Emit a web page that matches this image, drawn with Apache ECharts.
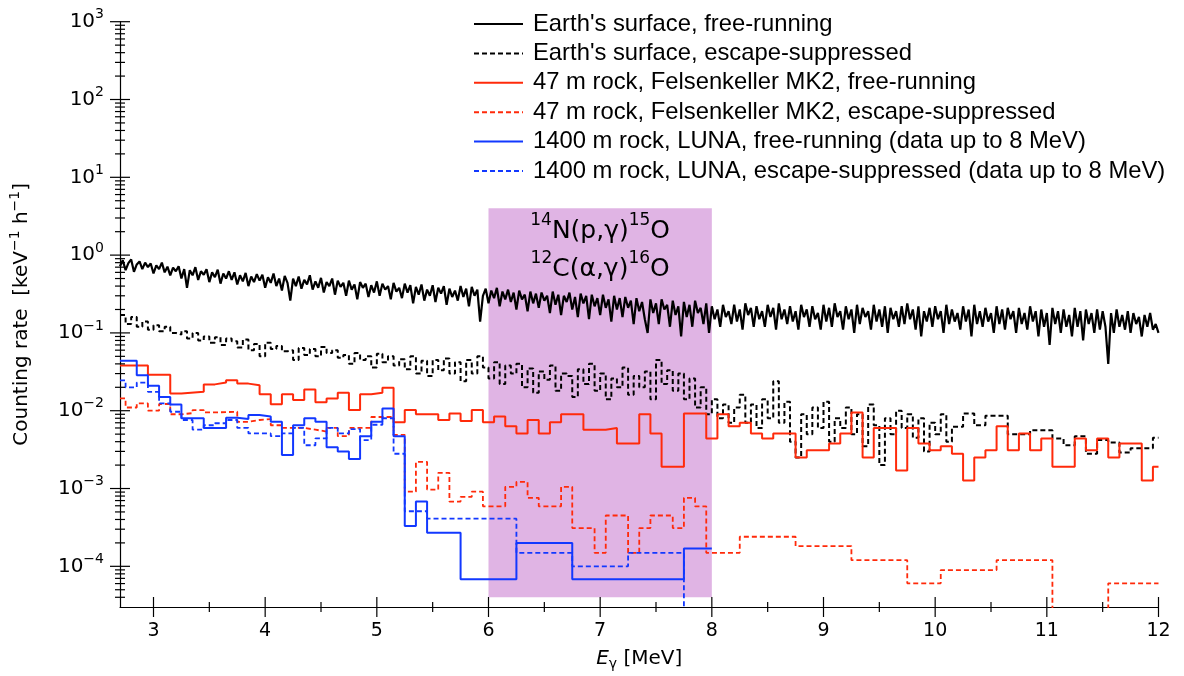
<!DOCTYPE html>
<html>
<head>
<meta charset="utf-8">
<script src="https://cdn.jsdelivr.net/npm/echarts@6.0.0/dist/echarts.min.js"></script>
<style>
html, body { margin: 0; padding: 0; background: #fff; }
#chart { width: 1184px; height: 676px; }
</style>
</head>
<body>
<div id="chart"></div>
<script>
// axis ranges
var xMin = 2.7, xMax = 12;
var yMin = 3e-5, yMax = 1000;
var xTicks = [3, 4, 5, 6, 7, 8, 9, 10, 11, 12];

// shaded region (Gamow windows)
var bandE = [6, 8];
var bandV = [4e-5, 4];

// Earth's surface, free-running: bins of 0.025 MeV starting at 2.70
var surfFreeStart = 2.7, surfFreeStep = 0.025;
var surfFree = [
  0.72, 0.86, 0.64, 0.79, 0.88, 0.61, 0.76, 0.83, 0.66, 0.80,
  0.70, 0.78, 0.58, 0.74, 0.66, 0.80, 0.60, 0.71, 0.55, 0.69,
  0.62, 0.72, 0.50, 0.66, 0.38, 0.64, 0.55, 0.70, 0.48, 0.62,
  0.56, 0.66, 0.45, 0.60, 0.52, 0.65, 0.43, 0.58, 0.50, 0.62,
  0.48, 0.60, 0.42, 0.55, 0.46, 0.59, 0.40, 0.53, 0.45, 0.57,
  0.47, 0.56, 0.38, 0.52, 0.44, 0.58, 0.40, 0.50, 0.35, 0.54,
  0.44, 0.26, 0.50, 0.40, 0.53, 0.37, 0.48, 0.42, 0.55, 0.36,
  0.46, 0.38, 0.51, 0.33, 0.45, 0.40, 0.50, 0.31, 0.47, 0.39,
  0.44, 0.30, 0.47, 0.36, 0.42, 0.27, 0.45, 0.38, 0.43, 0.29,
  0.41, 0.33, 0.46, 0.30, 0.43, 0.36, 0.40, 0.27, 0.44, 0.34,
  0.38, 0.28, 0.43, 0.33, 0.41, 0.24, 0.39, 0.31, 0.42, 0.26,
  0.36, 0.30, 0.41, 0.25, 0.38, 0.32, 0.40, 0.23, 0.37, 0.29,
  0.35, 0.26, 0.40, 0.29, 0.37, 0.22, 0.39, 0.30, 0.36, 0.14,
  0.30, 0.37, 0.24, 0.35, 0.28, 0.38, 0.22, 0.34, 0.27, 0.36,
  0.25, 0.33, 0.20, 0.35, 0.27, 0.31, 0.19, 0.34, 0.24, 0.32,
  0.21, 0.33, 0.26, 0.30, 0.18, 0.34, 0.23, 0.31, 0.17, 0.30,
  0.25, 0.33, 0.20, 0.29, 0.16, 0.32, 0.24, 0.30, 0.15, 0.31,
  0.22, 0.28, 0.17, 0.31, 0.21, 0.27, 0.14, 0.30, 0.20, 0.28,
  0.16, 0.29, 0.21, 0.26, 0.13, 0.28, 0.19, 0.25, 0.15, 0.10,
  0.27, 0.18, 0.24, 0.13, 0.27, 0.20, 0.23, 0.12, 0.26, 0.17,
  0.22, 0.09, 0.25, 0.16, 0.23, 0.12, 0.26, 0.18, 0.21, 0.13,
  0.24, 0.10, 0.22, 0.15, 0.20, 0.12, 0.23, 0.16, 0.19, 0.13,
  0.23, 0.14, 0.20, 0.11, 0.24, 0.17, 0.21, 0.12, 0.22, 0.15,
  0.19, 0.12, 0.23, 0.16, 0.21, 0.11, 0.24, 0.15, 0.20, 0.13,
  0.22, 0.14, 0.19, 0.11, 0.23, 0.16, 0.20, 0.12, 0.22, 0.15,
  0.18, 0.11, 0.23, 0.14, 0.21, 0.12, 0.24, 0.16, 0.19, 0.11,
  0.22, 0.15, 0.20, 0.10, 0.23, 0.13, 0.21, 0.16, 0.19, 0.11,
  0.23, 0.14, 0.20, 0.12, 0.22, 0.10, 0.21, 0.15, 0.19, 0.12,
  0.22, 0.13, 0.24, 0.15, 0.20, 0.11, 0.22, 0.09, 0.19, 0.14,
  0.21, 0.12, 0.22, 0.15, 0.19, 0.10, 0.23, 0.13, 0.20, 0.14,
  0.18, 0.11, 0.22, 0.14, 0.20, 0.09, 0.23, 0.13, 0.19, 0.12,
  0.21, 0.14, 0.18, 0.10, 0.22, 0.13, 0.20, 0.11, 0.21, 0.15,
  0.19, 0.10, 0.21, 0.13, 0.18, 0.11, 0.22, 0.14, 0.19, 0.09,
  0.20, 0.12, 0.18, 0.07, 0.21, 0.13, 0.19, 0.10, 0.20, 0.12,
  0.17, 0.09, 0.21, 0.12, 0.19, 0.08, 0.20, 0.13, 0.18, 0.10,
  0.20, 0.11, 0.19, 0.12, 0.04, 0.18, 0.10, 0.20, 0.12, 0.17,
  0.11, 0.19, 0.10, 0.18, 0.13, 0.16, 0.09, 0.17, 0.12, 0.18,
  0.11, 0.13, 0.10
];

// Earth's surface, escape-suppressed: fine bins 2.70-10.15, then wider bins
var surfEscStart = 2.7, surfEscStep = 0.05;
var surfEscFine = [
  0.17, 0.13, 0.16, 0.12, 0.14, 0.11, 0.125, 0.105, 0.12, 0.10,
  0.095, 0.105, 0.085, 0.10, 0.08, 0.09, 0.075, 0.088, 0.07, 0.085,
  0.078, 0.065, 0.082, 0.06, 0.072, 0.05, 0.075, 0.062, 0.068, 0.058,
  0.06, 0.045, 0.064, 0.052, 0.062, 0.05, 0.066, 0.055, 0.06, 0.048,
  0.052, 0.04, 0.055, 0.045, 0.05, 0.036, 0.054, 0.042, 0.05, 0.038,
  0.046, 0.034, 0.05, 0.03, 0.044, 0.028, 0.045, 0.033, 0.047, 0.03,
  0.042, 0.024, 0.045, 0.03, 0.05, 0.036, 0.026, 0.042, 0.022, 0.038,
  0.03, 0.04, 0.02, 0.035, 0.017, 0.032, 0.025, 0.038, 0.018, 0.03,
  0.028, 0.015, 0.034, 0.022, 0.04, 0.018, 0.03, 0.014, 0.026, 0.02,
  0.036, 0.016, 0.028, 0.02, 0.032, 0.014, 0.045, 0.022, 0.033, 0.018,
  0.03, 0.014, 0.026, 0.011, 0.02, 0.009, 0.014, 0.008, 0.012, 0.007,
  0.011, 0.016, 0.007, 0.012, 0.006, 0.014, 0.008, 0.024, 0.007, 0.013,
  0.004, 0.0025, 0.009, 0.005, 0.011, 0.006, 0.013, 0.004, 0.008, 0.006,
  0.011, 0.005, 0.009, 0.0035, 0.012, 0.0065, 0.002, 0.008, 0.005, 0.01,
  0.006, 0.009, 0.0045, 0.008, 0.003, 0.007, 0.005, 0.009, 0.004
];
var surfEscTailEdges = [10.15, 10.25, 10.35, 10.45, 10.65, 10.85, 11.05, 11.15, 11.25, 11.35, 11.45, 11.55, 11.65, 11.75, 11.85, 11.95, 12.0];
var surfEscTail = [0.0062, 0.0092, 0.0065, 0.0086, 0.0050, 0.0056, 0.0044, 0.0036, 0.0047, 0.0028, 0.0042, 0.0039, 0.0029, 0.0033, 0.0033, 0.0045];

// 47 m rock, Felsenkeller MK2, free-running
var fkFreeEdges = [2.70, 2.95, 3.15, 3.25, 3.45, 3.55, 3.65, 3.75, 3.85, 3.95, 4.05, 4.15, 4.25, 4.35, 4.45, 4.55, 4.65, 4.75, 4.85, 4.95,
  5.05, 5.15, 5.25, 5.35, 5.55, 5.65, 5.75, 5.85, 5.95, 6.05, 6.15, 6.25, 6.35, 6.45, 6.55, 6.65, 6.85, 7.05, 7.15, 7.35,
  7.45, 7.55, 7.75, 7.95, 8.05, 8.15, 8.25, 8.35, 8.45, 8.55, 8.75, 8.85, 9.05, 9.15, 9.25, 9.35, 9.45, 9.65, 9.75, 9.85,
  9.95, 10.05, 10.15, 10.25, 10.35, 10.45, 10.55, 10.65, 10.75, 10.85, 10.95, 11.05, 11.25, 11.35, 11.45, 11.55, 11.65, 11.85, 11.95, 12.0];
var fkFree = [0.038, 0.029, 0.0166, 0.0175, 0.0218, 0.0231, 0.0246, 0.0223, 0.0212, 0.0163, 0.0121, 0.0163, 0.0137, 0.0188, 0.0128, 0.0144, 0.0170, 0.0102, 0.0163, 0.0170,
  0.0198, 0.0071, 0.0102, 0.0090, 0.0076, 0.0092, 0.0074, 0.0102, 0.0071, 0.0084, 0.0063, 0.0051, 0.0076, 0.0051, 0.0071, 0.0090, 0.0057, 0.0060, 0.0038, 0.0090,
  0.0051, 0.0019, 0.0092, 0.0044, 0.0090, 0.0063, 0.0070, 0.0051, 0.0044, 0.0051, 0.0025, 0.0031, 0.0038, 0.0051, 0.0095, 0.0025, 0.0060, 0.0017, 0.0060, 0.0038,
  0.0031, 0.0035, 0.0028, 0.00127, 0.0025, 0.0031, 0.0063, 0.0031, 0.0051, 0.0031, 0.0044, 0.0019, 0.0044, 0.0031, 0.0044, 0.0025, 0.0038, 0.00127, 0.0019];

// 47 m rock, Felsenkeller MK2, escape-suppressed (1e-7 = empty bin)
var fkEscEdges = [2.70, 2.75, 2.85, 2.95, 3.05, 3.15, 3.25, 3.35, 3.45, 3.55, 3.75, 3.85, 3.95, 4.05, 4.15, 4.35, 4.45, 4.55, 4.65, 4.75,
  4.95, 5.15, 5.25, 5.35, 5.45, 5.55, 5.65, 5.75, 5.85, 5.95, 6.15, 6.25, 6.35, 6.45, 6.65, 6.75, 6.95, 7.05, 7.25, 7.35,
  7.45, 7.65, 7.75, 7.85, 7.95, 8.25, 8.75, 9.25, 9.75, 10.05, 10.55, 11.05, 11.55, 12.0];
var fkEsc = [0.0144, 0.0110, 0.0124, 0.0100, 0.0122, 0.0090, 0.0093, 0.0102, 0.0095, 0.0097, 0.0072, 0.0076, 0.0078, 0.0065, 0.0060, 0.0057, 0.0054, 0.0060, 0.0047, 0.0060,
  0.0083, 0.0049, 0.00091, 0.0022, 0.00097, 0.00159, 0.00068, 0.00078, 0.00091, 0.00059, 0.00105, 0.00122, 0.00076, 0.00059, 0.00105, 0.00031, 0.000149, 0.00045, 0.000149, 0.00031,
  0.00045, 0.00031, 0.00076, 0.00059, 0.000149, 0.00024, 0.000182, 0.00012, 0.0000604, 0.0000895, 0.00012, 1e-7, 0.0000604];

// 1400 m rock, LUNA, free-running
var lunaFreeEdges = [2.70, 2.85, 2.95, 3.05, 3.15, 3.25, 3.45, 3.65, 3.75, 3.85, 3.95, 4.05, 4.15, 4.25, 4.35, 4.45, 4.55, 4.65, 4.75, 4.85,
  4.95, 5.05, 5.15, 5.25, 5.35, 5.45, 5.75, 6.25, 6.75, 7.75, 8.0];
var lunaFree = [0.044, 0.0285, 0.021, 0.015, 0.012, 0.008, 0.006, 0.0081, 0.0078, 0.0088, 0.0084, 0.0072, 0.0027, 0.0065, 0.0080, 0.0072, 0.0034, 0.0030, 0.0024, 0.0047,
  0.0072, 0.0107, 0.0047, 0.00033, 0.00068, 0.00027, 0.000068, 0.0002, 0.000068, 0.000169];

// 1400 m rock, LUNA, escape-suppressed
var lunaEscEdges = [2.70, 2.75, 2.85, 2.95, 3.05, 3.15, 3.25, 3.35, 3.45, 3.55, 3.65, 3.75, 3.85, 3.95, 4.05, 4.15, 4.25, 4.35, 4.45, 4.55,
  4.65, 4.75, 4.85, 4.95, 5.05, 5.15, 5.25, 5.45, 6.25, 6.75, 7.25, 7.75, 8.0];
var lunaEsc = [0.0246, 0.020, 0.023, 0.0175, 0.0124, 0.0097, 0.0076, 0.0057, 0.0065, 0.0069, 0.0076, 0.0060, 0.0051, 0.0051, 0.0047, 0.0051, 0.0060, 0.0036, 0.0044, 0.0060,
  0.0051, 0.0058, 0.0042, 0.0066, 0.0080, 0.0028, 0.00051, 0.00041, 0.000149, 0.0001, 0.000149, 1e-7];

var names = [
  "Earth's surface, free-running",
  "Earth's surface, escape-suppressed",
  "47 m rock, Felsenkeller MK2, free-running",
  "47 m rock, Felsenkeller MK2, escape-suppressed",
  "1400 m rock, LUNA, free-running (data up to 8 MeV)",
  "1400 m rock, LUNA, escape-suppressed (data up to 8 MeV)"
];

var RED = '#ff2a0a', BLUE = '#1238ff';
var FONT = 'DejaVu Sans';

function hist(edges, vals) {
  var d = [];
  for (var i = 0; i < vals.length; i++) d.push([edges[i], vals[i]]);
  d.push([edges[edges.length - 1], vals[vals.length - 1]]);
  return d;
}

var surfFreeData = surfFree.map(function (v, i) {
  return [+(surfFreeStart + i * surfFreeStep).toFixed(3), v];
});

var escEdges = surfEscFine.map(function (v, i) {
  return +(surfEscStart + i * surfEscStep).toFixed(3);
}).concat(surfEscTailEdges);
var surfEscData = hist(escEdges, surfEscFine.concat(surfEscTail));

// axis ticks drawn by hand (log minor ticks, crossing the axis line)
var tickData = [];
for (var d = -5; d <= 3; d++) {
  for (var k = 1; k <= 9; k++) {
    var v = k * Math.pow(10, d);
    if (v < yMin * 1.01 || v > yMax * 1.001) continue;
    tickData.push([xMin, v, k === 1 ? 0 : 1]);
  }
}
xTicks.forEach(function (e) {
  tickData.push([e, yMin, 2]);
  if (e - 0.5 > xMin) tickData.push([e - 0.5, yMin, 3]);
});

var dash = [5, 3];

var chart = echarts.init(document.getElementById('chart'));
chart.setOption({
  animation: false,
  backgroundColor: '#fff',
  grid: { left: 120, right: 25.5, top: 21.7, bottom: 66 },
  legend: {
    data: names,
    orient: 'vertical',
    left: 473,
    top: 12,
    padding: 0,
    itemWidth: 49,
    itemHeight: 14,
    itemGap: 5.4,
    itemStyle: { opacity: 0 },
    textStyle: { fontFamily: 'Liberation Sans', fontSize: 23.8, lineHeight: 24, color: '#000', padding: [0, 0, 0, 5] }
  },
  xAxis: {
    type: 'value',
    min: xMin,
    max: xMax,
    axisLine: { lineStyle: { color: '#000', width: 1.2 } },
    axisTick: { show: false },
    splitLine: { show: false },
    axisLabel: {
      customValues: xTicks,
      margin: 15,
      color: '#000',
      fontFamily: FONT,
      fontSize: 19
    },
    name: '{i|E}{g|γ}{t| [MeV]}',
    nameLocation: 'middle',
    nameGap: 40,
    nameTextStyle: {
      rich: {
        i: { fontFamily: FONT, fontStyle: 'italic', fontSize: 20, lineHeight: 24, color: '#000' },
        g: { fontFamily: FONT, fontSize: 14, lineHeight: 14, verticalAlign: 'bottom', color: '#000' },
        t: { fontFamily: FONT, fontSize: 20, lineHeight: 24, color: '#000' }
      }
    }
  },
  yAxis: {
    type: 'log',
    logBase: 10,
    min: yMin,
    max: yMax,
    splitNumber: 8,
    axisLine: { lineStyle: { color: '#000', width: 1.2 } },
    axisTick: { show: false },
    splitLine: { show: false },
    axisLabel: {
      margin: 16,
      showMinLabel: false,
      formatter: function (v) {
        var l = Math.log10(v), e = Math.round(l);
        if (Math.abs(l - e) > 1e-6) return '';
        return '{b|10}{s|' + (e < 0 ? '\u2212' : '') + Math.abs(e) + '}';
      },
      rich: {
        b: { fontFamily: FONT, fontSize: 20, lineHeight: 28, color: '#000' },
        s: { fontFamily: FONT, fontSize: 14, lineHeight: 14, verticalAlign: 'top', color: '#000' }
      }
    },
    name: '{t|Counting rate  [keV}{s|\u22121}{t| h}{s|\u22121}{t|]}',
    nameLocation: 'middle',
    nameGap: 84,
    nameTextStyle: {
      rich: {
        t: { fontFamily: FONT, fontSize: 20, lineHeight: 28, color: '#000' },
        s: { fontFamily: FONT, fontSize: 14, lineHeight: 14, verticalAlign: 'top', color: '#000' }
      }
    }
  },
  series: [
    {
      name: 'band',
      type: 'line',
      data: [[bandE[0], bandV[0]]],
      symbol: 'none',
      lineStyle: { opacity: 0 },
      z: 1,
      markArea: {
        silent: true,
        itemStyle: { color: '#e0b4e4', opacity: 1 },
        label: {
          show: true,
          position: 'insideTop',
          distance: 4,
          formatter: '{s|14}{n|N(p,γ)}{s|15}{n|O}\n{s|12}{n|C(α,γ)}{s|16}{n|O}',
          rich: {
            n: { fontFamily: FONT, fontSize: 25, lineHeight: 38, color: '#000' },
            s: { fontFamily: FONT, fontSize: 17, lineHeight: 22, verticalAlign: 'top', color: '#000' }
          }
        },
        data: [[{ coord: [bandE[0], bandV[0]] }, { coord: [bandE[1], bandV[1]] }]]
      }
    },
    {
      name: names[0], type: 'line', data: surfFreeData, symbol: 'none', clip: true,
      lineStyle: { color: '#000', width: 2.2 }, itemStyle: { color: '#000' }
    },
    {
      name: names[1], type: 'line', step: 'end', data: surfEscData, symbol: 'none', clip: true,
      lineStyle: { color: '#000', width: 2, type: dash }, itemStyle: { color: '#000' }
    },
    {
      name: names[2], type: 'line', step: 'end', data: hist(fkFreeEdges, fkFree), symbol: 'none', clip: true,
      lineStyle: { color: RED, width: 2 }, itemStyle: { color: RED }
    },
    {
      name: names[3], type: 'line', step: 'end', data: hist(fkEscEdges, fkEsc), symbol: 'none', clip: true,
      lineStyle: { color: RED, width: 1.8, type: dash }, itemStyle: { color: RED }
    },
    {
      name: names[4], type: 'line', step: 'end', data: hist(lunaFreeEdges, lunaFree), symbol: 'none', clip: true,
      lineStyle: { color: BLUE, width: 2 }, itemStyle: { color: BLUE }
    },
    {
      name: names[5], type: 'line', step: 'end', data: hist(lunaEscEdges, lunaEsc), symbol: 'none', clip: true,
      lineStyle: { color: BLUE, width: 1.8, type: dash }, itemStyle: { color: BLUE }
    },
    {
      name: 'ticks',
      type: 'custom',
      data: tickData,
      encode: { x: 0, y: 1 },
      clip: false,
      silent: true,
      z: 5,
      renderItem: function (params, api) {
        var p = api.coord([api.value(0), api.value(1)]);
        var t = api.value(2);
        var len = (t === 0 || t === 2) ? 10 : 5;
        var shape = t < 2
          ? { x1: p[0] - len, y1: p[1], x2: p[0] + len, y2: p[1] }
          : { x1: p[0], y1: p[1] - len, x2: p[0], y2: p[1] + len };
        return { type: 'line', shape: shape, style: { stroke: '#000', lineWidth: 1.2 } };
      }
    }
  ]
});
</script>
</body>
</html>
